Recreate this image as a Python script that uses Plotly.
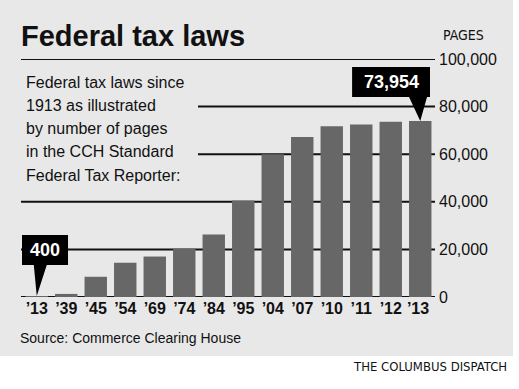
import plotly.graph_objects as go

# ---- data ----
years = ["\u201913", "\u201939", "\u201945", "\u201954", "\u201969", "\u201974", "\u201984",
         "\u201995", "\u201904", "\u201907", "\u201910", "\u201911", "\u201912", "\u201913 "]
pages = [400, 1300, 8500, 14400, 17000, 20300, 26300, 40500, 60000, 67200, 71700, 72500, 73600, 73954]
tick_vals = [0, 20000, 40000, 60000, 80000, 100000]
tick_text = ["0", "20,000", "40,000", "60,000", "80,000", "100,000"]
subtitle_lines = ["Federal tax laws since", "1913 as illustrated", "by number of pages",
                  "in the CCH Standard", "Federal Tax Reporter:"]

W, H = 519, 389
L, R, T, B = 22, 435, 59, 297  # plot area in pixels


def px(x):
    return (x - L) / (R - L)


def py(y):
    return (B - y) / (B - T)


BG = "#e8e8e8"
BAR = "#676767"
INK = "#111111"
SANS = "Liberation Sans"
COND = "DejaVu Sans Condensed, Liberation Sans, sans-serif"

fig = go.Figure()
fig.add_trace(go.Bar(x=years, y=pages, marker=dict(color=BAR, line=dict(width=0)),
                     hoverinfo="skip"))

shapes = []
# grey panel
shapes.append(dict(type="rect", xref="paper", yref="paper", x0=px(0), x1=px(513),
                   y0=py(356), y1=py(0), fillcolor=BG, line=dict(width=0), layer="below"))
# horizontal rules (start positions leave room for the text block)
starts = {0: 21, 20000: 21, 40000: 21, 60000: 198, 80000: 198, 100000: 21}
for v in tick_vals:
    shapes.append(dict(type="line", xref="paper", yref="y", x0=px(starts[v]), x1=1,
                       y0=v, y1=v, line=dict(color=INK, width=2), layer="below"))


# callouts: box + pointer expressed in data coordinates, tip on the bar
def callout(i, box_x0, box_x1, box_y0, box_y1, base_l, base_r):
    tip_x, tip_y = i, pages[i]
    path = (f"M {box_x0},{box_y0} L {box_x1},{box_y0} L {box_x1},{box_y1} "
            f"L {base_r},{box_y1} L {tip_x},{tip_y} L {base_l},{box_y1} L {box_x0},{box_y1} Z")
    shapes.append(dict(type="path", xref="x", yref="y", path=path,
                       fillcolor="black", line=dict(width=0), layer="above"))


callout(0, -0.5, 1.06, 26050, 13445, -0.10, 0.34)
callout(13, 10.69, 13.33, 96640, 84030, 12.62, 13.23)

annotations = []
annotations.append(dict(text="Federal tax laws", xref="paper", yref="paper", x=px(19), y=py(36),
                        xanchor="left", yanchor="middle", showarrow=False,
                        font=dict(family=SANS, size=29, color=INK, weight="bold")))
annotations.append(dict(text="PAGES", xref="paper", yref="paper", x=px(441), y=py(35),
                        xanchor="left", yanchor="middle", showarrow=False,
                        font=dict(family=COND, size=14, color=INK)))
for k, (line, yc) in enumerate(zip(subtitle_lines, [82.5, 105.5, 128.5, 151.5, 175])):
    annotations.append(dict(text=line, xref="paper", yref="paper", x=px(24), y=py(yc),
                            xanchor="left", yanchor="middle", showarrow=False,
                            font=dict(family=SANS, size=16, color=INK)))
annotations.append(dict(text="Source: Commerce Clearing House", xref="paper", yref="paper",
                        x=px(18), y=py(338), xanchor="left", yanchor="middle", showarrow=False,
                        font=dict(family=SANS, size=14, color=INK)))
annotations.append(dict(text="THE COLUMBUS DISPATCH", xref="paper", yref="paper",
                        x=px(509), y=py(366), xanchor="right", yanchor="middle", showarrow=False,
                        font=dict(family=COND, size=13, color=INK)))
# callout labels
annotations.append(dict(text=f"{pages[0]:,}", xref="x", yref="y", x=0.28, y=19750,
                        xanchor="center", yanchor="middle", showarrow=False,
                        font=dict(family=SANS, size=18, color="white", weight="bold")))
annotations.append(dict(text=f"{pages[13]:,}", xref="x", yref="y", x=12.01, y=90335,
                        xanchor="center", yanchor="middle", showarrow=False,
                        font=dict(family=SANS, size=18, color="white", weight="bold")))

fig.update_layout(
    width=W, height=H,
    margin=dict(l=L, r=W - R, t=T, b=H - B, pad=0),
    paper_bgcolor="white", plot_bgcolor="rgba(0,0,0,0)",
    bargap=0.24, showlegend=False,
    shapes=shapes, annotations=annotations,
    xaxis=dict(type="category", showgrid=False, zeroline=False, showline=False, ticks="",
               tickfont=dict(family=SANS, size=16, color=INK, weight="bold"),
               fixedrange=True),
    yaxis=dict(side="right", range=[0, 100000], tickvals=tick_vals, ticktext=tick_text,
               showgrid=False, zeroline=False, showline=False, ticks="", ticklabelstandoff=3,
               tickfont=dict(family=SANS, size=16, color=INK), fixedrange=True),
)

fig.write_html("out.html", config={"displayModeBar": False},
               post_script="document.body.style.margin='0px';document.body.style.padding='0px';")
